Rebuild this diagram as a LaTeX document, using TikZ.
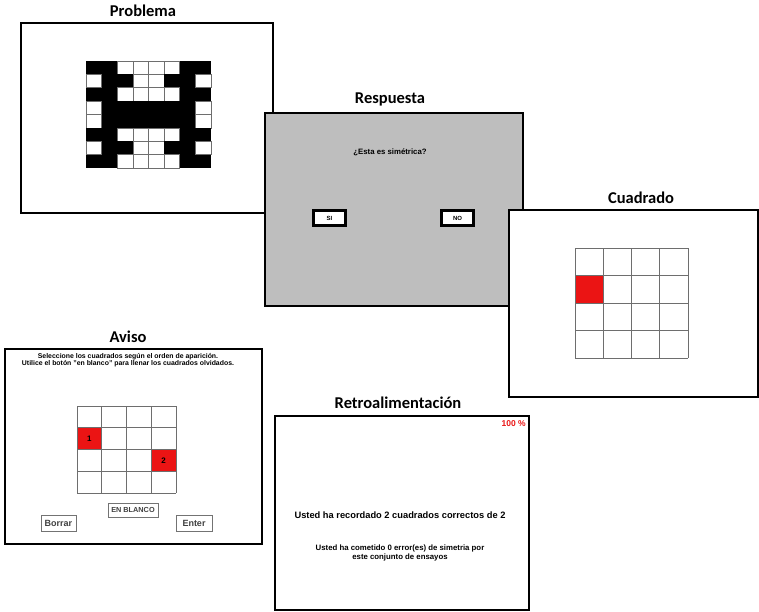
\documentclass[tikz,border=0pt]{standalone}
\usepackage{fontspec}
\setmainfont{Liberation Sans}
\newfontfamily\titlefont{Carlito}
\definecolor{panelgray}{RGB}{190,190,190}
\definecolor{gridgray}{RGB}{110,110,110}
\definecolor{cellred}{RGB}{235,20,20}
\begin{document}
\begin{tikzpicture}[x=1pt,y=-1pt,
  frame/.style={draw=black, line width=2pt, fill=white, inner sep=0pt, anchor=north west},
  ttl/.style={font=\titlefont\bfseries\fontsize{16.5}{18}\selectfont, inner sep=0pt},
  txt/.style={font=\bfseries\fontsize{#1}{#1}\selectfont, inner sep=0pt, align=center},
  thickbtn/.style={draw=black, line width=2.6pt, fill=white, inner sep=0pt, font=\bfseries\fontsize{6}{7}\selectfont},
  thinbtn/.style={draw=black!55, line width=0.8pt, fill=white, inner sep=0pt, text=black!75, font=\bfseries\fontsize{#1}{#1}\selectfont},
  cellline/.style={draw=gridgray, line width=0.7pt}
]
\useasboundingbox[fill=white] (0,0) rectangle (759,612);

% ---------- Problema ----------
\node[ttl] (tprob) at (143,11) {Problema};
\node[frame, minimum width=252pt, minimum height=190pt] (prob) at (20,22) {};
\foreach \pat [count=\r] in {{1,1,0,0,0,0,1,1},{0,1,1,0,0,1,1,0},{1,1,0,0,0,0,1,1},{0,1,1,1,1,1,1,0},{0,1,1,1,1,1,1,0},{1,1,0,0,0,0,1,1},{0,1,1,0,0,1,1,0},{1,1,0,0,0,0,1,1}}{
  \foreach \v [count=\c] in \pat {
    \ifnum\v=1
      \fill[black] ({86+(\c-1)*15.625},{61+(\r-1)*13.375}) rectangle ++(15.625,13.375);
    \else
      \draw[cellline, fill=white] ({86+(\c-1)*15.625},{61+(\r-1)*13.375}) rectangle ++(15.625,13.375);
    \fi
  }
}

% ---------- Respuesta ----------
\node[ttl] (tresp) at (390,99) {Respuesta};
\node[frame, fill=panelgray, minimum width=258pt, minimum height=193pt] (resp) at (264,112) {};
\node[txt=7.8] (q) at (390,152) {¿Esta es simétrica?};
\node[thickbtn, minimum width=32pt, minimum height=15pt] (si) at (329.5,218) {SI};
\node[thickbtn, minimum width=32pt, minimum height=15pt] (no) at (457.5,218) {NO};

% ---------- Cuadrado ----------
\node[ttl] (tcuad) at (641,198) {Cuadrado};
\node[frame, minimum width=249pt, minimum height=187pt] (cuad) at (508,209) {};
\fill[cellred] (575,275.5) rectangle ++(28.25,27.5);
\foreach \i in {0,...,4}{
  \draw[cellline] ({575+\i*28.25},248) -- ++(0,110);
  \draw[cellline] (575,{248+\i*27.5}) -- ++(113,0);
}

% ---------- Aviso ----------
\node[ttl] (tav) at (128,337) {Aviso};
\node[frame, minimum width=257pt, minimum height=195pt] (av) at (4,348) {};
\node[txt=6.9] (avtxt) at (128,360.5) {Seleccione los cuadrados según el orden de aparición.\\Utilice el botón "en blanco" para llenar los cuadrados olvidados.};
\fill[cellred] (77,427.75) rectangle ++(24.75,21.75);
\fill[cellred] (151.25,449.5) rectangle ++(24.75,21.75);
\node[txt=8] (n1) at (89.4,438.6) {1};
\node[txt=8] (n2) at (163.6,460.4) {2};
\foreach \i in {0,...,4}{
  \draw[cellline] ({77+\i*24.75},406) -- ++(0,87);
  \draw[cellline] (77,{406+\i*21.75}) -- ++(99,0);
}
\node[thinbtn=7.3, minimum width=50pt, minimum height=14pt] (blanco) at (133,510) {EN BLANCO};
\node[thinbtn=9, minimum width=35pt, minimum height=16pt] (borrar) at (58.5,523.5) {Borrar};
\node[thinbtn=9, minimum width=36pt, minimum height=16pt] (enter) at (194,523.5) {Enter};

% ---------- Retroalimentacion ----------
\node[ttl] (tretro) at (398,403) {Retroalimentación};
\node[frame, minimum width=254pt, minimum height=194pt] (retro) at (274,415) {};
\node[txt=8.5, text=cellred, anchor=east] (pct) at (526,423.5) {100 \%};
\node[txt=9.3] (r1) at (400,515) {Usted ha recordado 2 cuadrados correctos de 2};
\node[txt=7.8] (r2) at (400,553) {Usted ha cometido 0 error(es) de simetria por\\[0.5pt]este conjunto de ensayos};
\end{tikzpicture}
\end{document}
